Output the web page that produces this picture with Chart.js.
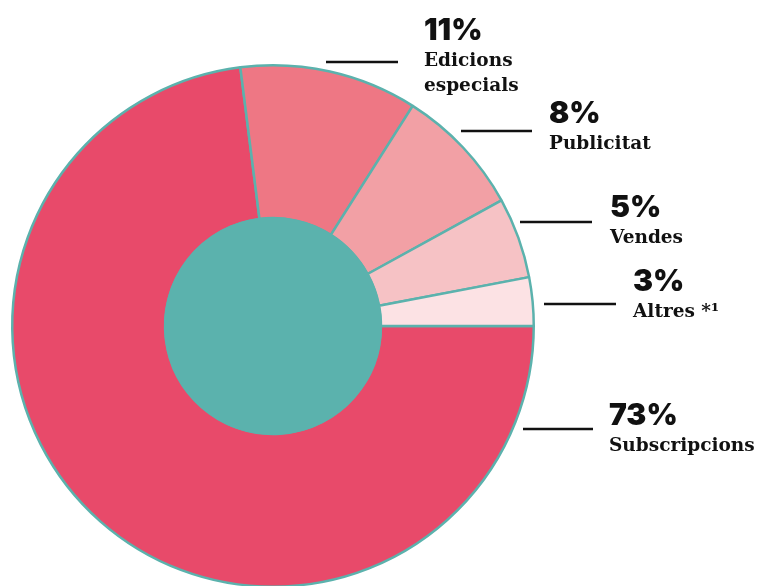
<!DOCTYPE html>
<html>
<head>
<meta charset="utf-8">
<script src="https://cdn.jsdelivr.net/npm/chart.js@4.4.0/dist/chart.umd.min.js"></script>
<style>
  html, body { margin: 0; padding: 0; background: #fff; overflow: hidden; }
  #wrap { position: relative; width: 758px; height: 590px; }
</style>
</head>
<body>
<div id="wrap"><canvas id="chart"></canvas></div>
<script>
// Data
const categories = ['Subscripcions', 'Edicions especials', 'Publicitat', 'Vendes', 'Altres *¹'];
const values = [73, 11, 8, 5, 3];
const labelLines = [['Subscripcions'], ['Edicions', 'especials'], ['Publicitat'], ['Vendes'], ['Altres *¹']];

const sliceColors = ['#E84A6A', '#EE7784', '#F2A0A5', '#F6C2C5', '#FCE2E4'];
const teal = '#5BB2AD';

// label placement, offsets from the doughnut centre (line x1, x2, y, text x, pct baseline)
const labelPos = [
  { x1: 250, x2: 320, y: 103, tx: 336, by: 99 },
  { x1: 53, x2: 125, y: -264, tx: 151, by: -286 },
  { x1: 188, x2: 259, y: -195, tx: 276, by: -203 },
  { x1: 247, x2: 319, y: -104, tx: 337, by: -109 },
  { x1: 271, x2: 343, y: -22, tx: 360, by: -35 }
];

// Teal centre circle + callout labels
const calloutPlugin = {
  id: 'callouts',
  afterDatasetsDraw(chart) {
    const ctx = chart.ctx;
    const arc = chart.getDatasetMeta(0).data[0];
    const cx = arc.x, cy = arc.y;

    ctx.save();
    ctx.beginPath();
    ctx.arc(cx, cy, arc.innerRadius + 1, 0, Math.PI * 2);
    ctx.fillStyle = teal;
    ctx.fill();

    values.forEach((v, i) => {
      const p = labelPos[i];
      ctx.beginPath();
      ctx.moveTo(cx + p.x1, cy + p.y);
      ctx.lineTo(cx + p.x2, cy + p.y);
      ctx.strokeStyle = '#111';
      ctx.lineWidth = 2.5;
      ctx.stroke();

      ctx.fillStyle = '#111';
      ctx.textBaseline = 'alphabetic';
      ctx.font = '900 30px Inter';
      ctx.fillText(v + '%', cx + p.tx, cy + p.by);

      ctx.font = 'bold 18.5px "DejaVu Serif"';
      labelLines[i].forEach((t, k) => {
        ctx.fillText(t, cx + p.tx, cy + p.by + 26 + k * 25);
      });
    });
    ctx.restore();
  }
};

new Chart(document.getElementById('chart'), {
  type: 'doughnut',
  data: {
    labels: categories,
    datasets: [{
      data: values,
      backgroundColor: sliceColors,
      borderColor: teal,
      borderWidth: 2.5
    }]
  },
  options: {
    responsive: true,
    maintainAspectRatio: false,
    animation: false,
    rotation: 90,
    cutout: '41.4%',
    layout: { padding: { left: 11, right: 223, top: 64, bottom: 2 } },
    plugins: {
      legend: { display: false },
      tooltip: { enabled: false }
    }
  },
  plugins: [calloutPlugin]
});
</script>
</body>
</html>
